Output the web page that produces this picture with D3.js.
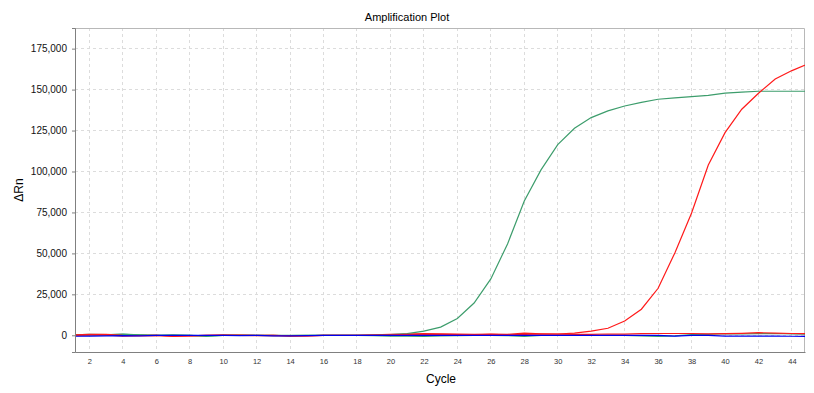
<!DOCTYPE html>
<html lang="en">
<head>
  <meta charset="UTF-8">
  <title>Amplification Plot</title>
  <script src="https://cdn.jsdelivr.net/npm/d3@7/dist/d3.min.js"></script>
  <style>
    body { margin: 0; background: #fff; }
    svg { display: block; font-family: "Liberation Sans", Arial, sans-serif; }
  </style>
</head>
<body>
  <div id="wrapper"></div>
  <script>
    // cycles 1..45
    const cycles = d3.range(1, 46)
    const xTicks = d3.range(2, 45, 2)
    const yTicks = [0, 25000, 50000, 75000, 100000, 125000, 150000, 175000]

    const greenAmp = [300, 500, 400, 600, 200, 0, -100, 0, -300, 0, 100, -100, 0, -200, 0, 0, 0, 0, 100, 400,
      1000, 2500, 5000, 10300, 19700, 34400, 55800, 82000, 101000, 116400, 126400, 132900, 137000, 140000, 142200,
      144100, 144900, 145700, 146500, 147800, 148500, 149000, 149000, 149000, 149000]
    const redAmp = [200, 600, 500, 0, -200, 0, -500, -300, 0, 0, 100, 0, -100, -400, -300, 0, 0, 0, 100, 300,
      500, 600, 500, 400, 300, 500, 300, 600, 700, 800, 1300, 2600, 4300, 8700, 15900, 28700, 50300, 74700,
      104000, 123700, 138000, 147800, 156500, 161600, 165800]
    const redFlat = [-300, 100, 300, -500, -200, 0, -600, -400, 0, 200, 0, -200, 0, -500, -300, 0, 0, 0, 200, 600,
      800, 1000, 900, 800, 600, 700, 600, 1300, 900, 700, 600, 500, 800, 700, 1000, 1100, 1100, 1100, 900, 1000,
      1200, 1600, 1300, 1100, 1000]
    const greenFlat = [500, 400, 200, 700, 300, 0, 200, -100, -600, 0, 0, 0, -200, 0, 0, 0, 0, 0, -200, -500,
      -600, -600, -400, -200, 0, 0, -200, -600, 0, 0, 0, 0, 0, 0, -400, -700, -300, 400, 600, 1000, 900, 1000,
      1100, 900, 700]
    const blueFlat = [-600, -500, -400, -200, -300, 0, 0, 0, 0, 0, -200, -100, -400, -300, -200, 0, 0, 0, 0, 0,
      0, 0, 0, 0, 0, 0, 0, 0, 0, 0, 0, 0, 0, 0, 0, 0, -500, 0, 0, -500, -500, -500, -500, -600, -700]

    const series = [
      { color: '#3d9d6c', values: greenFlat },
      { color: '#ff1a1a', values: redFlat },
      { color: '#3d9d6c', values: greenAmp },
      { color: '#ff1a1a', values: redAmp },
      { color: '#0000ee', values: blueFlat }
    ]

    const dimensions = {
      width: 814,
      height: 393,
      margin: { top: 28, right: 9, bottom: 41, left: 75 }
    }
    dimensions.boundedWidth = dimensions.width - dimensions.margin.left - dimensions.margin.right
    dimensions.boundedHeight = dimensions.height - dimensions.margin.top - dimensions.margin.bottom

    const svg = d3.select('#wrapper').append('svg')
      .attr('width', dimensions.width)
      .attr('height', dimensions.height)

    const bounds = svg.append('g')
      .attr('transform', `translate(${dimensions.margin.left},${dimensions.margin.top})`)

    const xScale = d3.scaleLinear()
      .domain([1.145, 44.78])
      .range([0, dimensions.boundedWidth])
    const yScale = d3.scaleLinear()
      .domain([-10200, 187600])
      .range([dimensions.boundedHeight, 0])

    // grid
    bounds.append('g').selectAll('line').data(xTicks).join('line')
      .attr('x1', d => xScale(d)).attr('x2', d => xScale(d))
      .attr('y1', 0).attr('y2', dimensions.boundedHeight)
      .attr('stroke', '#dcdcdc').attr('stroke-dasharray', '3,3')
      .attr('shape-rendering', 'crispEdges')
    bounds.append('g').selectAll('line').data(yTicks).join('line')
      .attr('x1', 0).attr('x2', dimensions.boundedWidth)
      .attr('y1', d => yScale(d)).attr('y2', d => yScale(d))
      .attr('stroke', '#dcdcdc').attr('stroke-dasharray', '3,3')
      .attr('shape-rendering', 'crispEdges')

    // frame: top/right light
    bounds.append('path')
      .attr('d', `M0,0.5H${dimensions.boundedWidth - 0.5}V${dimensions.boundedHeight}`)
      .attr('fill', 'none').attr('stroke', '#b8b8b8')

    // traces
    svg.append('clipPath').attr('id', 'clip')
      .append('rect').attr('width', dimensions.boundedWidth).attr('height', dimensions.boundedHeight)

    const lineGenerator = d3.line()
      .x((d, i) => xScale(cycles[i]))
      .y(d => yScale(d))

    bounds.append('g').attr('clip-path', 'url(#clip)')
      .selectAll('path').data(series).join('path')
      .attr('d', d => lineGenerator(d.values))
      .attr('fill', 'none')
      .attr('stroke', d => d.color)
      .attr('stroke-width', 1.2)

    // axes
    const yAxis = d3.axisLeft(yScale)
      .tickValues(yTicks)
      .tickSize(3)
      .tickPadding(5)
      .tickFormat(d3.format(','))
    const yAxisG = bounds.append('g').call(yAxis)
    yAxisG.select('.domain').attr('stroke', '#808080')
    yAxisG.selectAll('.tick line').attr('stroke', '#808080')
    yAxisG.selectAll('text').attr('font-size', 10).attr('fill', '#111')
      .attr('font-family', '"Liberation Sans", Arial, sans-serif')

    const xAxis = d3.axisBottom(xScale)
      .tickValues(xTicks)
      .tickSize(0)
      .tickPadding(7)
    const xAxisG = bounds.append('g')
      .attr('transform', `translate(0,${dimensions.boundedHeight})`)
      .call(xAxis)
    xAxisG.select('.domain').attr('stroke', '#808080')
    xAxisG.selectAll('text').attr('font-size', 7.5).attr('fill', '#333')
      .attr('font-family', '"Liberation Sans", Arial, sans-serif')

    // labels
    svg.append('text')
      .attr('x', 407).attr('y', 21)
      .attr('text-anchor', 'middle')
      .attr('font-size', 11).attr('fill', '#000')
      .text('Amplification Plot')
    svg.append('text')
      .attr('x', 441).attr('y', 383)
      .attr('text-anchor', 'middle')
      .attr('font-size', 12).attr('fill', '#000')
      .text('Cycle')
    svg.append('text')
      .attr('transform', 'translate(23,190) rotate(-90)')
      .attr('text-anchor', 'middle')
      .attr('font-size', 12).attr('fill', '#000')
      .text('ΔRn')
  </script>
</body>
</html>
